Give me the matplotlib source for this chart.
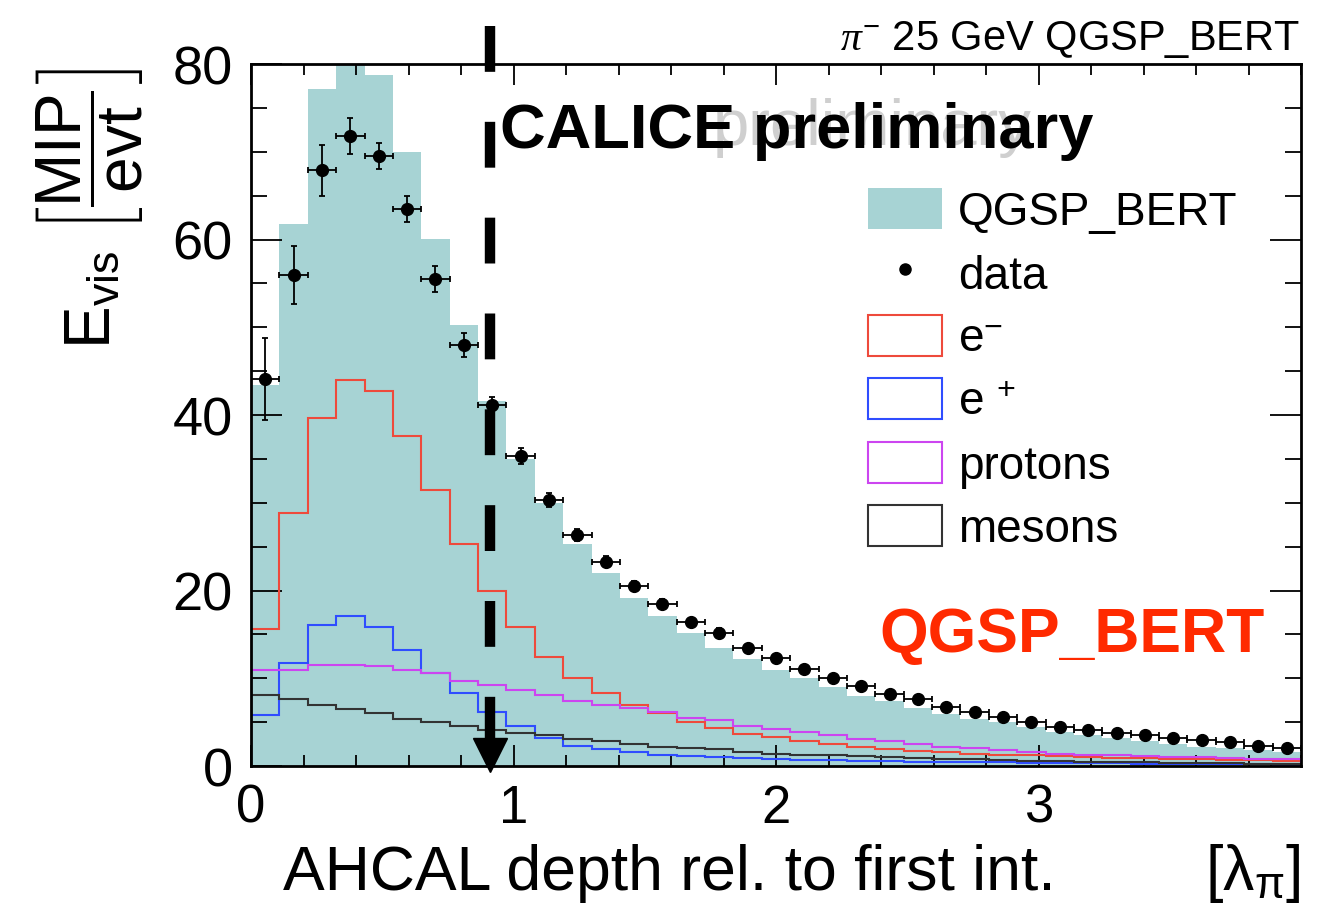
import numpy as np
import matplotlib
matplotlib.use("Agg")
import matplotlib.pyplot as plt
from matplotlib.patches import Patch
from matplotlib.lines import Line2D

plt.rcParams["font.family"] = ["Liberation Sans", "DejaVu Sans"]
plt.rcParams["mathtext.fontset"] = "custom"
plt.rcParams["mathtext.rm"] = "Liberation Sans"
plt.rcParams["mathtext.it"] = "Liberation Serif:italic"
plt.rcParams["mathtext.bf"] = "Liberation Sans:bold"
plt.rcParams["lines.scale_dashes"] = False

# 37 bins over 0..4 lambda_pi
bordas = np.linspace(0.0, 4.0, 38)

energia_qgsp = [43.4, 61.8, 77.2, 83.0, 78.7, 70.0, 60.1, 50.2, 41.6, 35.0,
                30.0, 25.3, 22.0, 19.2, 17.1, 15.2, 13.5, 12.2, 10.9, 10.0,
                9.0, 8.0, 7.4, 6.6, 5.9, 5.4, 5.0, 4.4, 3.9, 3.5,
                3.2, 2.9, 2.5, 2.2, 2.0, 1.8, 1.6]
energia_dados = [44.1, 56.0, 67.9, 71.8, 69.5, 63.5, 55.5, 48.0, 41.1, 35.3,
                 30.3, 26.3, 23.3, 20.5, 18.5, 16.4, 15.2, 13.5, 12.3, 11.1,
                 10.0, 9.1, 8.2, 7.6, 6.7, 6.1, 5.6, 5.0, 4.5, 4.1,
                 3.8, 3.5, 3.2, 3.0, 2.7, 2.3, 2.1]
erro_dados = [4.7, 3.3, 2.9, 2.0, 1.5, 1.5, 1.5, 1.4, 1.0, 0.9,
              0.8, 0.7, 0.6, 0.6, 0.5, 0.5, 0.5, 0.4, 0.4, 0.4,
              0.4, 0.3, 0.3, 0.3, 0.3, 0.3, 0.3, 0.3, 0.2, 0.2,
              0.2, 0.2, 0.2, 0.2, 0.2, 0.2, 0.2]
energia_eminus = [15.6, 28.8, 39.7, 44.0, 42.7, 37.6, 31.4, 25.3, 19.9, 15.8,
                  12.4, 10.0, 8.3, 6.9, 6.0, 5.0, 4.3, 3.7, 3.3, 2.9,
                  2.5, 2.2, 1.9, 1.7, 1.6, 1.4, 1.3, 1.2, 1.1, 1.0,
                  0.9, 0.9, 0.8, 0.8, 0.7, 0.7, 0.6]
energia_eplus = [5.8, 11.7, 16.1, 17.1, 15.8, 13.2, 10.6, 8.3, 6.2, 4.6,
                 3.2, 2.3, 1.9, 1.6, 1.3, 1.1, 1.0, 0.9, 0.8, 0.7,
                 0.65, 0.6, 0.55, 0.5, 0.45, 0.4, 0.4, 0.35, 0.35, 0.3,
                 0.3, 0.25, 0.25, 0.2, 0.2, 0.2, 0.15]
energia_protons = [10.9, 10.9, 11.5, 11.5, 11.4, 10.9, 10.6, 9.7, 9.2, 8.7,
                   8.1, 7.4, 6.9, 6.6, 6.1, 5.5, 5.2, 4.6, 4.2, 3.9,
                   3.5, 3.1, 2.8, 2.5, 2.2, 2.0, 1.8, 1.6, 1.4, 1.3,
                   1.2, 1.1, 1.0, 1.0, 0.9, 0.8, 0.8]
energia_mesons = [8.1, 7.6, 7.0, 6.5, 6.0, 5.4, 5.0, 4.6, 4.1, 3.8,
                  3.5, 3.1, 2.8, 2.5, 2.2, 2.0, 1.9, 1.6, 1.4, 1.3,
                  1.2, 1.1, 1.0, 0.9, 0.8, 0.75, 0.7, 0.6, 0.55, 0.5,
                  0.45, 0.4, 0.35, 0.3, 0.3, 0.25, 0.2]

profundidade_corte = 0.91

COR_QGSP = "#a7d3d4"
COR_EMINUS = "#ee4a3c"
COR_EPLUS = "#2f4dff"
COR_PROTONS = "#cc45f0"
COR_MESONS = "#333333"

fig = plt.figure(figsize=(13.26, 9.04), dpi=100)
ax = fig.add_axes([251 / 1326, 1 - 767 / 904, 1050 / 1326, 702 / 904])

centros = 0.5 * (bordas[:-1] + bordas[1:])
meia_largura = 0.5 * np.diff(bordas)

ax.stairs(energia_qgsp, bordas, fill=True, color=COR_QGSP, zorder=1)
for valores, cor in [(energia_eminus, COR_EMINUS), (energia_eplus, COR_EPLUS),
                     (energia_protons, COR_PROTONS), (energia_mesons, COR_MESONS)]:
    ax.stairs(valores, bordas, color=cor, lw=1.5, baseline=0, zorder=2)

ax.errorbar(centros, energia_dados, xerr=meia_largura, yerr=erro_dados, fmt="o",
            color="black", ms=8.5, elinewidth=1.3, capsize=2.5, capthick=1.3, zorder=4)

# marker for the interaction depth cut
ax.plot([profundidade_corte, profundidade_corte], [84.3, 3.1], color="black", lw=7.5,
        dashes=(33, 36), solid_capstyle="butt", dash_capstyle="butt",
        clip_on=False, zorder=6)
ax.plot([profundidade_corte], [1.2], marker="v", ms=24, color="black",
        clip_on=False, zorder=6)

ax.set_xlim(0, 4)
ax.set_ylim(0, 80)
ax.set_xticks([0, 1, 2, 3])
ax.set_xticks(np.arange(0, 4.01, 0.2), minor=True)
ax.set_yticks([0, 20, 40, 60, 80])
ax.set_yticks(np.arange(0, 81, 5), minor=True)
ax.tick_params(axis="both", which="both", direction="in", top=True, right=True,
               width=1.3, colors="black")
ax.tick_params(axis="y", which="major", length=22, labelsize=39, pad=13)
ax.tick_params(axis="y", which="minor", length=11.5)
ax.tick_params(axis="x", which="major", length=15, labelsize=38, pad=12)
ax.tick_params(axis="x", which="minor", length=8)
for lado in ax.spines.values():
    lado.set_linewidth(2.0)
    lado.set_zorder(5)

rotulo_x = ax.set_xlabel("AHCAL depth rel. to first int.", fontsize=45)
rotulo_x.set_ha("left")
rotulo_x.set_va("baseline")
ax.xaxis.set_label_coords(32 / 1050, -123 / 702)
ax.text(1.0, -123 / 702, r"[$\mathrm{\lambda}_{\mathrm{\pi}}$]", transform=ax.transAxes,
        fontsize=45, ha="right", va="baseline")

rotulo_y = ax.set_ylabel(r"$\mathrm{E}_{\mathrm{vis}}\ \left[\dfrac{\mathrm{MIP}}{\mathrm{evt}}\right]$",
                         fontsize=46)
rotulo_y.set_rotation_mode("anchor")
rotulo_y.set_ha("right")
rotulo_y.set_va("center")
ax.yaxis.set_label_coords(-161 / 1050, 699 / 702)

fig.text(1300 / 1326, 1 - 50 / 904, r"$\pi^{-}$ 25 GeV QGSP_BERT", fontsize=30,
         ha="right", va="baseline")

ax.text(713 / 1326, 1 - 145 / 904, "preliminary", transform=fig.transFigure,
        fontsize=47, color="#cfcfcf", ha="left", va="baseline", zorder=3)
ax.text(500 / 1326, 1 - 148 / 904, "CALICE preliminary", transform=fig.transFigure,
        fontsize=45.5, fontweight="bold", color="black", ha="left", va="baseline", zorder=7)
ax.text(1265 / 1326, 1 - 652 / 904, "QGSP_BERT", transform=fig.transFigure,
        fontsize=45, fontweight="bold", color="#ff2a00", ha="right", va="baseline", zorder=7)

alcas = [
    Patch(facecolor=COR_QGSP, edgecolor="none"),
    Line2D([], [], marker="o", color="black", ls="none", ms=8),
    Patch(facecolor="white", edgecolor=COR_EMINUS, lw=1.5),
    Patch(facecolor="white", edgecolor=COR_EPLUS, lw=1.5),
    Patch(facecolor="white", edgecolor=COR_PROTONS, lw=1.5),
    Patch(facecolor="white", edgecolor=COR_MESONS, lw=1.5),
]
nomes = ["QGSP_BERT", "data", r"e$^{\mathrm{-}}$", r"e $^{+}$", "protons", "mesons"]
ax.legend(alcas, nomes, loc="upper left", bbox_to_anchor=(617 / 1050, 578 / 702),
          frameon=False, fontsize=33, handlelength=1.62, handleheight=1.0,
          handletextpad=0.35, labelspacing=0.375, borderpad=0, borderaxespad=0)

plt.savefig("out.png", dpi=100)
plt.close()
